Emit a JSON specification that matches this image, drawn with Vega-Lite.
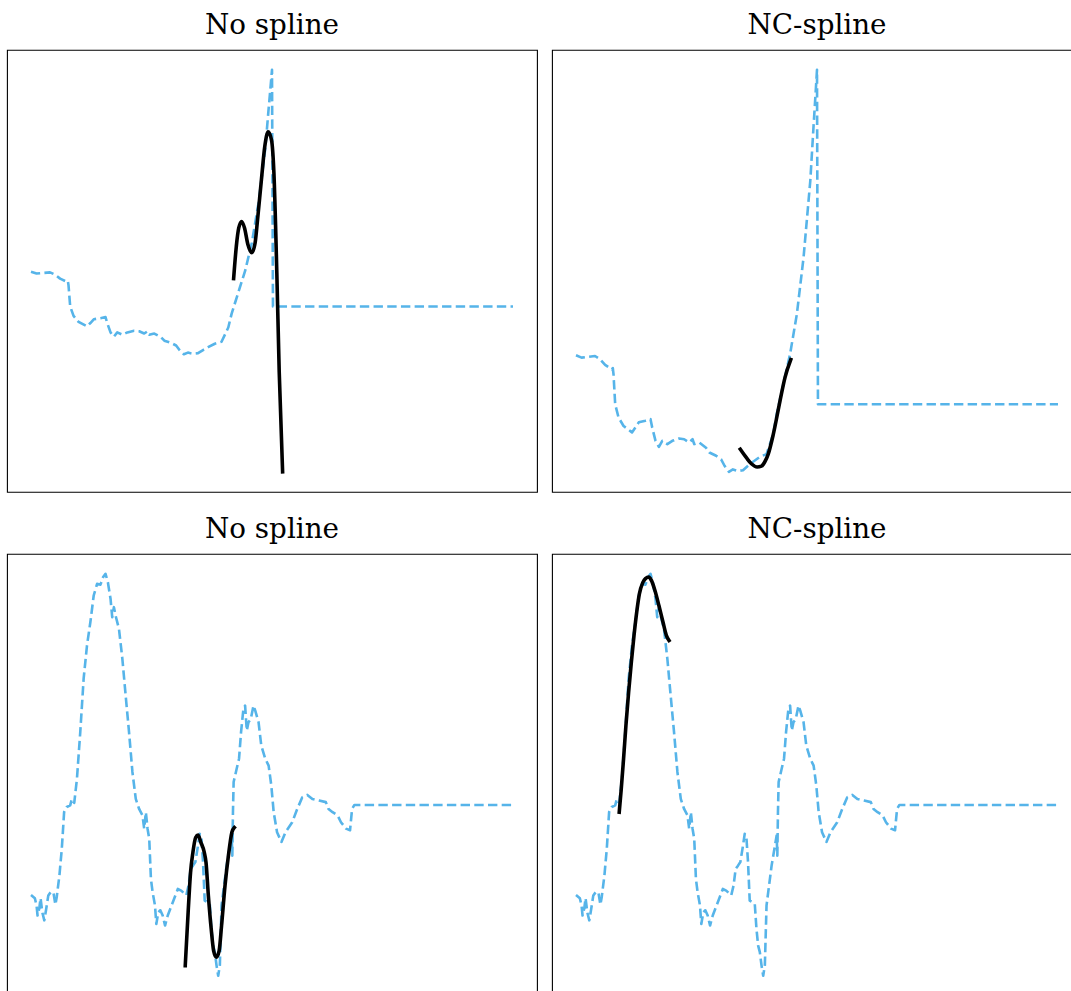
{
  "$schema": "https://vega.github.io/schema/vega-lite/v6.json",
  "padding": {"left": 6, "top": 10.8, "right": 0, "bottom": 0},
  "config": {
    "view": {"stroke": "#000000", "strokeWidth": 1.1},
    "title": {"font": "DejaVu Serif", "fontSize": 27.8, "fontWeight": "normal", "color": "#000000", "offset": 10},
    "line": {"strokeJoin": "round"}
  },
  "spacing": 22,
  "vconcat": [
    {
      "spacing": 13,
      "hconcat": [
        {
          "title": "No spline",
          "width": 530, "height": 442,
          "encoding": {
            "x": {"field": "t", "type": "quantitative", "scale": {"zero": false, "nice": false, "padding": 24}, "axis": null},
            "y": {"field": "v", "type": "quantitative", "scale": {"zero": false, "nice": false, "padding": 20}, "axis": null}
          },
          "layer": [
            {"data": {"name": "topSignal"}, "mark": {"type": "line", "color": "#56B4E9", "strokeWidth": 2.6, "strokeDash": [9.4, 4.3]}},
            {"data": {"name": "topNoSpline"}, "mark": {"type": "line", "color": "#000000", "strokeWidth": 3.6, "interpolate": "monotone", "strokeCap": "square"}}
          ]
        },
        {
          "title": "NC-spline",
          "width": 530, "height": 442,
          "encoding": {
            "x": {"field": "t", "type": "quantitative", "scale": {"zero": false, "nice": false, "padding": 24}, "axis": null},
            "y": {"field": "v", "type": "quantitative", "scale": {"zero": false, "nice": false, "padding": 20}, "axis": null}
          },
          "layer": [
            {"data": {"name": "topSignal"}, "mark": {"type": "line", "color": "#56B4E9", "strokeWidth": 2.6, "strokeDash": [9.4, 4.3]}},
            {"data": {"name": "topNCSpline"}, "mark": {"type": "line", "color": "#000000", "strokeWidth": 3.6, "interpolate": "monotone", "strokeCap": "square"}}
          ]
        }
      ]
    },
    {
      "spacing": 13,
      "hconcat": [
        {
          "title": "No spline",
          "width": 530, "height": 442,
          "encoding": {
            "x": {"field": "t", "type": "quantitative", "scale": {"zero": false, "nice": false, "padding": 24}, "axis": null},
            "y": {"field": "v", "type": "quantitative", "scale": {"zero": false, "nice": false, "padding": 20}, "axis": null}
          },
          "layer": [
            {"data": {"name": "bottomSignal"}, "mark": {"type": "line", "color": "#56B4E9", "strokeWidth": 2.6, "strokeDash": [9.4, 4.3]}},
            {"data": {"name": "bottomNoSpline"}, "mark": {"type": "line", "color": "#000000", "strokeWidth": 3.6, "interpolate": "monotone", "strokeCap": "square"}}
          ]
        },
        {
          "title": "NC-spline",
          "width": 530, "height": 442,
          "encoding": {
            "x": {"field": "t", "type": "quantitative", "scale": {"zero": false, "nice": false, "padding": 24}, "axis": null},
            "y": {"field": "v", "type": "quantitative", "scale": {"zero": false, "nice": false, "padding": 20}, "axis": null}
          },
          "layer": [
            {"data": {"name": "bottomSignal"}, "mark": {"type": "line", "color": "#56B4E9", "strokeWidth": 2.6, "strokeDash": [9.4, 4.3]}},
            {"data": {"name": "bottomNCSpline"}, "mark": {"type": "line", "color": "#000000", "strokeWidth": 3.6, "interpolate": "monotone", "strokeCap": "square"}}
          ]
        }
      ]
    }
  ],
  "datasets": {
    "topSignal": [
      {"t": 0, "v": 0.290}, {"t": 1.15, "v": 0.284}, {"t": 2.55, "v": 0.286}, {"t": 3.94, "v": 0.288},
      {"t": 4.99, "v": 0.280}, {"t": 6.04, "v": 0.266}, {"t": 7.43, "v": 0.255}, {"t": 7.64, "v": 0.258},
      {"t": 7.78, "v": 0.243}, {"t": 8.13, "v": 0.168}, {"t": 8.83, "v": 0.135}, {"t": 9.87, "v": 0.114},
      {"t": 11.62, "v": 0.098}, {"t": 12.32, "v": 0.110}, {"t": 13.02, "v": 0.123}, {"t": 14.41, "v": 0.127},
      {"t": 15.46, "v": 0.131}, {"t": 15.81, "v": 0.110}, {"t": 16.5, "v": 0.077}, {"t": 17.2, "v": 0.062},
      {"t": 17.9, "v": 0.077}, {"t": 18.95, "v": 0.069}, {"t": 19.99, "v": 0.077}, {"t": 21.39, "v": 0.083},
      {"t": 22.44, "v": 0.081}, {"t": 23.48, "v": 0.073}, {"t": 24.18, "v": 0.081}, {"t": 24.53, "v": 0.069},
      {"t": 25.58, "v": 0.073}, {"t": 26.97, "v": 0.060}, {"t": 27.67, "v": 0.048}, {"t": 29.07, "v": 0.040},
      {"t": 30.11, "v": 0.031}, {"t": 30.81, "v": 0.015}, {"t": 31.72, "v": 0.0}, {"t": 32.55, "v": 0.006},
      {"t": 33.6, "v": 0.002}, {"t": 34.65, "v": 0.004}, {"t": 35.69, "v": 0.015}, {"t": 36.74, "v": 0.025},
      {"t": 38.14, "v": 0.037}, {"t": 39.53, "v": 0.044}, {"t": 40.93, "v": 0.094}, {"t": 41.63, "v": 0.143},
      {"t": 43.02, "v": 0.218}, {"t": 44.42, "v": 0.293}, {"t": 45.82, "v": 0.392}, {"t": 47.21, "v": 0.533},
      {"t": 48.61, "v": 0.724}, {"t": 49.31, "v": 0.865}, {"t": 49.66, "v": 0.932}, {"t": 50.0, "v": 1.0},
      {"t": 50.2, "v": 0.168}, {"t": 100, "v": 0.168}
    ],
    "topNoSpline": [
      {"t": 42.04, "v": 0.266}, {"t": 42.6, "v": 0.380}, {"t": 43.1, "v": 0.444}, {"t": 43.7, "v": 0.467},
      {"t": 44.3, "v": 0.444}, {"t": 45.0, "v": 0.386}, {"t": 45.8, "v": 0.357}, {"t": 46.5, "v": 0.392},
      {"t": 47.0, "v": 0.473}, {"t": 47.8, "v": 0.613}, {"t": 48.5, "v": 0.730}, {"t": 49.2, "v": 0.782},
      {"t": 49.9, "v": 0.753}, {"t": 50.4, "v": 0.636}, {"t": 51.0, "v": 0.287}, {"t": 51.5, "v": -0.063},
      {"t": 52.2, "v": -0.413}
    ],
    "topNCSpline": [
      {"t": 34.09, "v": 0.056}, {"t": 35.35, "v": 0.035}, {"t": 36.39, "v": 0.020}, {"t": 37.58, "v": 0.012},
      {"t": 38.48, "v": 0.014}, {"t": 39.18, "v": 0.025}, {"t": 39.88, "v": 0.044}, {"t": 40.93, "v": 0.093},
      {"t": 42.32, "v": 0.176}, {"t": 43.37, "v": 0.235}, {"t": 44.56, "v": 0.279}
    ],
    "bottomSignal": [
      {"t": 0, "v": 0.201}, {"t": 0.80, "v": 0.193}, {"t": 1.15, "v": 0.175}, {"t": 1.36, "v": 0.150},
      {"t": 1.71, "v": 0.167}, {"t": 1.99, "v": 0.193}, {"t": 2.34, "v": 0.158}, {"t": 2.76, "v": 0.138},
      {"t": 3.11, "v": 0.163}, {"t": 3.59, "v": 0.200}, {"t": 4.08, "v": 0.208}, {"t": 4.64, "v": 0.208},
      {"t": 5.06, "v": 0.177}, {"t": 5.34, "v": 0.196}, {"t": 5.90, "v": 0.250}, {"t": 6.39, "v": 0.316},
      {"t": 6.87, "v": 0.407}, {"t": 7.43, "v": 0.420}, {"t": 8.13, "v": 0.424}, {"t": 8.48, "v": 0.440},
      {"t": 8.97, "v": 0.430}, {"t": 9.53, "v": 0.490}, {"t": 10.22, "v": 0.606}, {"t": 10.92, "v": 0.739},
      {"t": 11.62, "v": 0.822}, {"t": 12.32, "v": 0.880}, {"t": 13.01, "v": 0.946}, {"t": 13.71, "v": 0.975},
      {"t": 14.41, "v": 0.973}, {"t": 14.97, "v": 0.992}, {"t": 15.46, "v": 1.0}, {"t": 15.95, "v": 0.979},
      {"t": 16.5, "v": 0.938}, {"t": 16.85, "v": 0.892}, {"t": 17.2, "v": 0.917}, {"t": 17.55, "v": 0.896},
      {"t": 18.25, "v": 0.863}, {"t": 18.95, "v": 0.789}, {"t": 19.64, "v": 0.697}, {"t": 20.34, "v": 0.606},
      {"t": 21.04, "v": 0.507}, {"t": 21.74, "v": 0.440}, {"t": 22.43, "v": 0.415}, {"t": 23.13, "v": 0.399},
      {"t": 23.48, "v": 0.366}, {"t": 23.83, "v": 0.407}, {"t": 24.18, "v": 0.366}, {"t": 24.53, "v": 0.341},
      {"t": 24.88, "v": 0.241}, {"t": 25.23, "v": 0.208}, {"t": 25.72, "v": 0.175}, {"t": 26.0, "v": 0.129},
      {"t": 26.41, "v": 0.158}, {"t": 26.83, "v": 0.163}, {"t": 27.32, "v": 0.150}, {"t": 27.81, "v": 0.125},
      {"t": 28.37, "v": 0.150}, {"t": 29.42, "v": 0.183}, {"t": 30.46, "v": 0.216}, {"t": 31.16, "v": 0.212},
      {"t": 32.21, "v": 0.200}, {"t": 32.7, "v": 0.225}, {"t": 33.12, "v": 0.266}, {"t": 33.61, "v": 0.274},
      {"t": 34.1, "v": 0.283}, {"t": 34.65, "v": 0.324}, {"t": 35.0, "v": 0.353}, {"t": 35.35, "v": 0.345},
      {"t": 35.69, "v": 0.283}, {"t": 36.04, "v": 0.187}, {"t": 36.6, "v": 0.183}, {"t": 37.09, "v": 0.179},
      {"t": 37.44, "v": 0.117}, {"t": 37.79, "v": 0.075}, {"t": 38.14, "v": 0.059}, {"t": 38.49, "v": 0.026},
      {"t": 38.84, "v": 0.0}, {"t": 39.18, "v": 0.026}, {"t": 39.53, "v": 0.175}, {"t": 39.88, "v": 0.208},
      {"t": 40.58, "v": 0.274}, {"t": 41.28, "v": 0.324}, {"t": 41.63, "v": 0.349}, {"t": 41.77, "v": 0.299},
      {"t": 41.9, "v": 0.407}, {"t": 42.04, "v": 0.482}, {"t": 42.67, "v": 0.515}, {"t": 43.16, "v": 0.540},
      {"t": 43.58, "v": 0.606}, {"t": 44.07, "v": 0.664}, {"t": 44.42, "v": 0.672}, {"t": 44.77, "v": 0.610},
      {"t": 45.12, "v": 0.631}, {"t": 45.6, "v": 0.639}, {"t": 46.16, "v": 0.672}, {"t": 46.51, "v": 0.660},
      {"t": 47.21, "v": 0.631}, {"t": 47.77, "v": 0.573}, {"t": 48.6, "v": 0.540}, {"t": 49.3, "v": 0.523},
      {"t": 49.86, "v": 0.473}, {"t": 50.35, "v": 0.407}, {"t": 51.05, "v": 0.357}, {"t": 51.96, "v": 0.333},
      {"t": 52.79, "v": 0.357}, {"t": 54.19, "v": 0.382}, {"t": 55.24, "v": 0.415}, {"t": 56.28, "v": 0.444},
      {"t": 57.33, "v": 0.450}, {"t": 58.38, "v": 0.440}, {"t": 59.78, "v": 0.436}, {"t": 61.17, "v": 0.432},
      {"t": 61.73, "v": 0.415}, {"t": 62.57, "v": 0.407}, {"t": 63.61, "v": 0.399}, {"t": 64.31, "v": 0.382},
      {"t": 65.36, "v": 0.366}, {"t": 66.19, "v": 0.362}, {"t": 66.61, "v": 0.415}, {"t": 67.1, "v": 0.425},
      {"t": 100, "v": 0.425}
    ],
    "bottomNoSpline": [
      {"t": 32.0, "v": 0.025}, {"t": 32.6, "v": 0.158}, {"t": 33.1, "v": 0.257}, {"t": 33.59, "v": 0.307},
      {"t": 34.16, "v": 0.344}, {"t": 34.66, "v": 0.350}, {"t": 35.24, "v": 0.332}, {"t": 35.95, "v": 0.307},
      {"t": 36.31, "v": 0.282}, {"t": 36.8, "v": 0.199}, {"t": 37.39, "v": 0.116}, {"t": 37.89, "v": 0.062},
      {"t": 38.46, "v": 0.046}, {"t": 39.03, "v": 0.062}, {"t": 39.53, "v": 0.124}, {"t": 40.25, "v": 0.224},
      {"t": 40.96, "v": 0.299}, {"t": 41.68, "v": 0.357}, {"t": 42.18, "v": 0.369}
    ],
    "bottomNCSpline": [
      {"t": 8.97, "v": 0.407}, {"t": 9.39, "v": 0.465}, {"t": 9.87, "v": 0.540}, {"t": 10.36, "v": 0.623},
      {"t": 10.92, "v": 0.706}, {"t": 11.48, "v": 0.780}, {"t": 12.04, "v": 0.847}, {"t": 12.6, "v": 0.905},
      {"t": 13.15, "v": 0.950}, {"t": 13.85, "v": 0.978}, {"t": 14.41, "v": 0.988}, {"t": 15.11, "v": 0.992},
      {"t": 15.67, "v": 0.983}, {"t": 16.36, "v": 0.959}, {"t": 17.2, "v": 0.921}, {"t": 18.04, "v": 0.880},
      {"t": 18.74, "v": 0.847}, {"t": 19.3, "v": 0.834}
    ]
  }
}
